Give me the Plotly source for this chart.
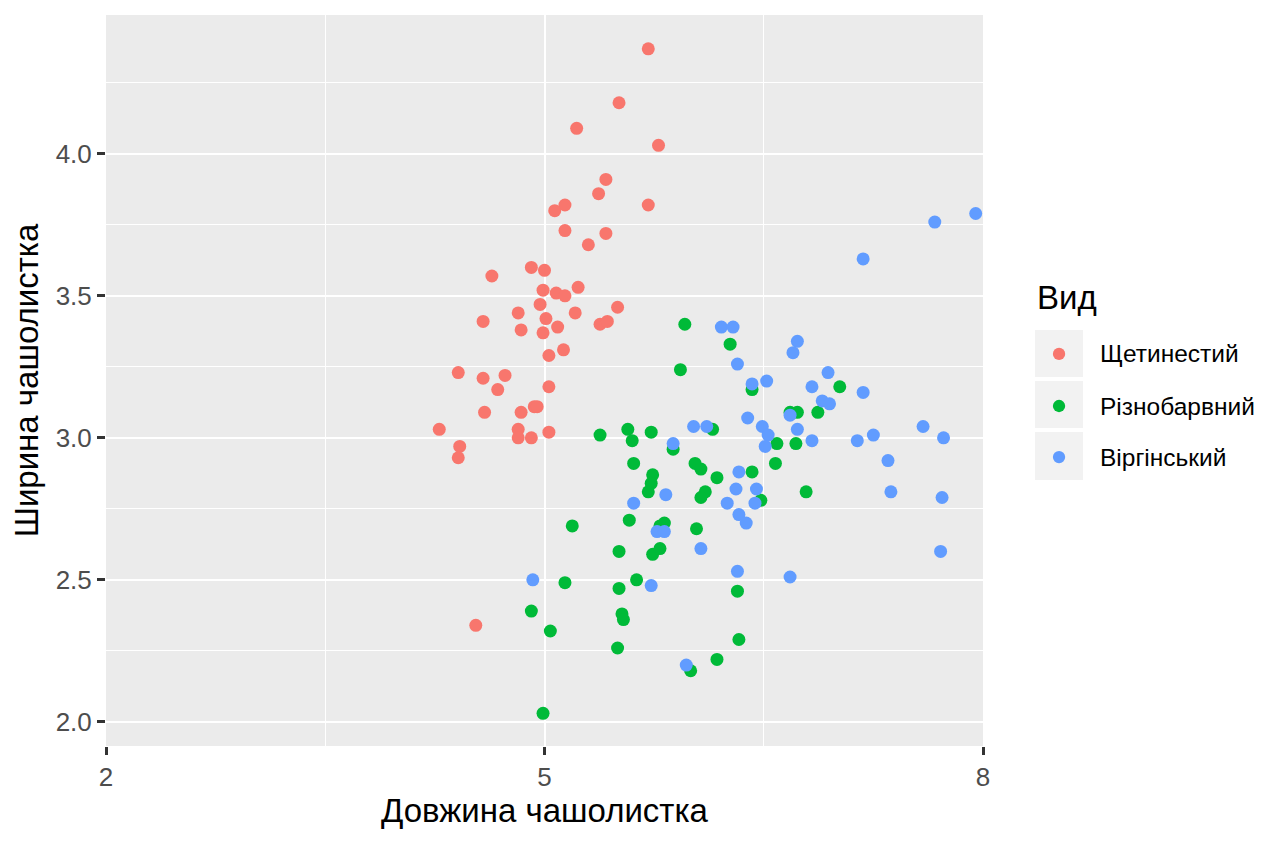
import plotly.graph_objects as go

# Ірис: довжина / ширина чашолистка (з невеликим тремтінням, як на рисунку)
species = ["Щетинестий", "Різнобарвний", "Віргінський"]
colors = ["#F8766D", "#00BA38", "#619CFF"]

setosa_x = [5.71, 5.51, 5.22, 5.78, 5.42, 5.37, 5.14, 5.07, 5.71, 5.14, 5.42, 5.30, 4.64, 4.91,
            5.00, 4.99, 5.08, 5.14, 5.23, 4.97, 5.50, 4.58, 4.82, 5.01, 5.21, 5.38, 5.43, 4.84,
            5.09, 4.99, 5.13, 5.03, 4.41, 4.58, 4.73, 4.68, 5.03, 4.59, 4.84, 4.93, 4.95, 4.28,
            4.82, 4.82, 4.91, 5.03, 4.42, 4.41, 4.53]
setosa_y = [4.37, 4.18, 4.09, 4.03, 3.91, 3.86, 3.82, 3.80, 3.82, 3.73, 3.72, 3.68, 3.57, 3.60,
            3.59, 3.52, 3.51, 3.50, 3.53, 3.47, 3.46, 3.41, 3.44, 3.42, 3.44, 3.40, 3.41, 3.38,
            3.39, 3.37, 3.31, 3.29, 3.23, 3.21, 3.22, 3.17, 3.18, 3.09, 3.09, 3.11, 3.11, 3.03,
            3.03, 3.00, 3.00, 3.02, 2.97, 2.93, 2.34]

versicolor_x = [5.96, 6.27, 5.93, 6.42, 6.15, 5.38, 5.57, 5.60, 5.73, 5.88, 5.61, 6.03, 6.07,
                6.18, 6.42, 6.59, 6.58, 5.74, 5.73, 5.71, 6.10, 6.07, 6.48, 7.02, 6.68, 6.73,
                6.87, 6.72, 6.79, 5.19, 5.58, 5.82, 5.79, 6.04, 5.51, 5.74, 5.79, 5.63, 5.14,
                5.51, 6.32, 4.91, 5.53, 5.54, 5.04, 5.50, 6.33, 6.18, 6.00, 4.99]
versicolor_y = [3.40, 3.33, 3.24, 3.17, 3.03, 3.01, 3.03, 2.99, 3.02, 2.96, 2.91, 2.91, 2.89,
                2.86, 2.88, 2.98, 2.91, 2.87, 2.84, 2.81, 2.81, 2.79, 2.78, 3.18, 3.09, 3.09,
                3.09, 2.98, 2.81, 2.69, 2.71, 2.70, 2.69, 2.68, 2.60, 2.59, 2.61, 2.50, 2.49,
                2.47, 2.46, 2.39, 2.38, 2.36, 2.32, 2.26, 2.29, 2.22, 2.18, 2.03]

virginica_x = [6.21, 6.29, 6.32, 6.42, 6.52, 6.39, 6.02, 6.11, 6.49, 6.53, 6.51, 5.88, 6.33,
               6.31, 6.45, 5.83, 5.61, 6.25, 6.44, 6.73, 6.70, 6.94, 6.83, 7.18, 6.90, 6.95,
               6.68, 6.73, 6.83, 7.14, 7.25, 7.59, 7.73, 7.35, 7.37, 7.72, 6.33, 6.38, 5.77,
               5.82, 6.07, 4.92, 5.73, 6.32, 5.97, 7.95, 7.67, 7.18, 7.71, 6.68]
virginica_y = [3.39, 3.39, 3.26, 3.19, 3.20, 3.07, 3.04, 3.04, 3.04, 3.01, 2.97, 2.98, 2.88,
               2.82, 2.82, 2.80, 2.77, 2.77, 2.77, 3.34, 3.30, 3.23, 3.18, 3.16, 3.13, 3.12,
               3.08, 3.03, 2.99, 2.99, 3.01, 3.04, 3.00, 2.92, 2.81, 2.79, 2.73, 2.70, 2.67,
               2.67, 2.61, 2.50, 2.48, 2.53, 2.20, 3.79, 3.76, 3.63, 2.60, 2.51]

xs = [setosa_x, versicolor_x, virginica_x]
ys = [setosa_y, versicolor_y, virginica_y]

FONT = "Liberation Sans, Arial, sans-serif"

fig = go.Figure()
for name, col, x, y in zip(species, colors, xs, ys):
    fig.add_trace(go.Scatter(
        x=x, y=y, mode="markers", name=name, showlegend=False,
        marker=dict(size=13, color=col, line=dict(width=0)),
    ))

# легенда в стилі ggplot: сірі підкладки, кружечки і підписи
key_boxes = [(0.5048, 0.5691), (0.4350, 0.4993), (0.3639, 0.4295)]
key_centers = [0.5363, 0.4651, 0.3953]
for (y0, y1), yc, name, col in zip(key_boxes, key_centers, species, colors):
    fig.add_shape(type="rect", xref="paper", yref="paper",
                  x0=1.0593, x1=1.1140, y0=y0, y1=y1,
                  fillcolor="#F2F2F2", line=dict(width=0), layer="below")
    fig.add_shape(type="circle", xref="paper", yref="paper",
                  x0=1.0867 - 0.0070, x1=1.0867 + 0.0070,
                  y0=yc - 0.0084, y1=yc + 0.0084,
                  fillcolor=col, line=dict(width=0))
    fig.add_annotation(text=name, xref="paper", yref="paper", x=1.1310, y=yc,
                       xanchor="left", yanchor="middle", showarrow=False,
                       font=dict(family=FONT, size=24.5, color="black"))

fig.add_annotation(text="Вид", xref="paper", yref="paper", x=1.0593, y=0.6142,
                   xanchor="left", yanchor="middle", showarrow=False,
                   font=dict(family=FONT, size=33, color="black"))

axis_common = dict(
    showgrid=True, gridcolor="white", gridwidth=2,
    zeroline=False, showline=False,
    ticks="outside", ticklen=8, tickwidth=2.5, tickcolor="#333333",
    tickfont=dict(family=FONT, size=26, color="#4D4D4D"),
)

fig.update_xaxes(
    range=[2, 8], tick0=2, dtick=3,
    minor=dict(tick0=3.5, dtick=3, showgrid=True, gridcolor="white", gridwidth=1, ticks=""),
    title=dict(text="Довжина чашолистка", font=dict(family=FONT, size=33, color="black"),
               standoff=2),
    **axis_common,
)
fig.update_yaxes(
    range=[1.915, 4.489], tick0=2, dtick=0.5, tickformat=".1f",
    minor=dict(dtick=0.25, showgrid=True, gridcolor="white", gridwidth=1, ticks=""),
    title=dict(text="Ширина чашолистка", font=dict(family=FONT, size=33, color="black"),
               standoff=10),
    **axis_common,
)

fig.update_layout(
    width=1264, height=843,
    margin=dict(l=98, r=289, t=7, b=105, autoexpand=False),
    plot_bgcolor="#EBEBEB", paper_bgcolor="white",
    font=dict(family=FONT),
)

fig.write_html("out.html")
